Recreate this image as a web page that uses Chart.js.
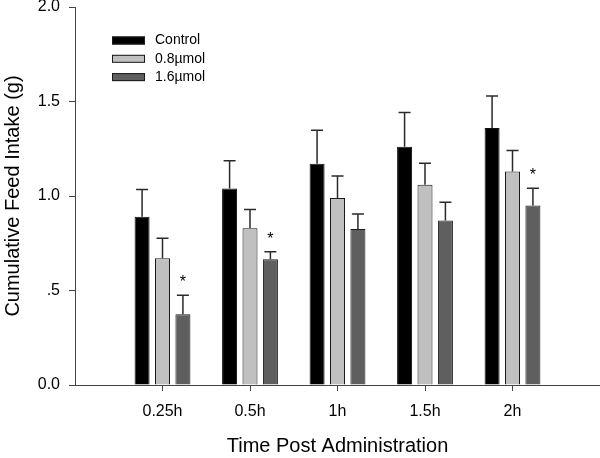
<!DOCTYPE html>
<html><head><meta charset="utf-8">
<script src="https://cdn.jsdelivr.net/npm/chart.js@4/dist/chart.umd.min.js"></script>
<style>html,body{margin:0;padding:0;background:#fff}#wrap{width:600px;height:458px;position:relative}</style>
</head><body><div id="wrap"><canvas id="c" width="600" height="458"></canvas></div>
<script>
const categories = ['0.25h', '0.5h', '1h', '1.5h', '2h'];
const seriesNames = ['Control', '0.8\u00b5mol', '1.6\u00b5mol'];
const controlMeans = [0.89, 1.04, 1.17, 1.26, 1.36];
const controlSem = [0.145, 0.146, 0.178, 0.182, 0.169];
const lowMeans = [0.67, 0.83, 0.99, 1.06, 1.13];
const lowSem = [0.106, 0.098, 0.116, 0.113, 0.111];
const highMeans = [0.375, 0.665, 0.825, 0.87, 0.95];
const highSem = [0.10, 0.04, 0.08, 0.097, 0.091];
const highSignificant = [true, true, false, false, true];
const yTickLabels = ['0.0', '.5', '1.0', '1.5', '2.0'];

const FONT = '"Liberation Sans", Arial, Helvetica, sans-serif';
Chart.defaults.font.family = FONT;
Chart.defaults.color = '#000';

const pad = arr => [null, ...arr, null];
const labels = ['', ...categories, ''];

const datasets = [
  { label: seriesNames[0], data: pad(controlMeans), sem: pad(controlSem), sig: pad(categories.map(() => false)),
    backgroundColor: '#000000', borderColor: '#111111', borderWidth: 1 },
  { label: seriesNames[1], data: pad(lowMeans), sem: pad(lowSem), sig: pad(categories.map(() => false)),
    backgroundColor: '#c0c0c0', borderColor: '#1a1a1a', borderWidth: 1 },
  { label: seriesNames[2], data: pad(highMeans), sem: pad(highSem), sig: pad(highSignificant),
    backgroundColor: '#5f5f5f', borderColor: '#1a1a1a', borderWidth: 1 }
];

const errorBars = {
  id: 'errorBars',
  afterDatasetsDraw(chart) {
    const ctx = chart.ctx;
    const yScale = chart.scales.y;
    ctx.save();
    chart.data.datasets.forEach((ds, di) => {
      const meta = chart.getDatasetMeta(di);
      meta.data.forEach((bar, i) => {
        const v = ds.data[i];
        if (v == null) return;
        const top = yScale.getPixelForValue(v + ds.sem[i]);
        const x = bar.x;
        ctx.strokeStyle = '#2a2a2a';
        ctx.lineWidth = 1.5;
        ctx.beginPath();
        ctx.moveTo(x, bar.y);
        ctx.lineTo(x, top);
        ctx.moveTo(x - 6, top);
        ctx.lineTo(x + 6, top);
        ctx.stroke();
        if (ds.sig[i]) {
          ctx.fillStyle = '#000';
          ctx.font = '16px ' + FONT;
          ctx.textAlign = 'center';
          ctx.textBaseline = 'alphabetic';
          ctx.fillText('*', x, top - 8);
        }
      });
    });
    ctx.restore();
  }
};

const innerLegend = {
  id: 'innerLegend',
  afterDraw(chart) {
    const ctx = chart.ctx;
    ctx.save();
    chart.data.datasets.forEach((ds, i) => {
      const cy = 40.5 + i * 18.3;
      ctx.fillStyle = ds.backgroundColor;
      ctx.fillRect(112, cy - 4, 33, 8);
      ctx.strokeStyle = '#1a1a1a';
      ctx.lineWidth = 1;
      ctx.strokeRect(112.5, cy - 3.5, 32, 7);
      ctx.fillStyle = '#000';
      ctx.font = '14px ' + FONT;
      ctx.textAlign = 'left';
      ctx.textBaseline = 'middle';
      ctx.fillText(ds.label, 155, cy);
    });
    ctx.restore();
  }
};

new Chart(document.getElementById('c'), {
  type: 'bar',
  data: { labels, datasets },
  plugins: [errorBars, innerLegend],
  options: {
    responsive: false,
    animation: false,
    devicePixelRatio: 1,
    layout: { padding: { top: 7, right: 0, left: 0, bottom: 0 } },
    plugins: { legend: { display: false }, tooltip: { enabled: false } },
    datasets: { bar: { categoryPercentage: 0.7, barPercentage: 0.735 } },
    scales: {
      x: {
        type: 'category',
        offset: false,
        grid: {
          display: true, offset: false, drawOnChartArea: false, drawTicks: true, tickLength: 6, tickWidth: 1,
          tickColor: c => (c.index === 0 || c.index === labels.length - 1) ? 'rgba(0,0,0,0)' : '#444'
        },
        border: { display: true, color: '#444', width: 1 },
        ticks: { color: '#000', font: { size: 16 }, padding: 11, maxRotation: 0, autoSkip: false },
        title: { display: true, text: 'Time Post Administration', color: '#000', font: { size: 20 }, padding: { top: 0, bottom: 0 } },
        afterFit: s => { s.height = 73; s.paddingLeft = 0; s.paddingRight = 0; }
      },
      y: {
        min: 0, max: 2,
        grid: { display: true, drawOnChartArea: false, drawTicks: true, tickLength: 6, tickColor: '#444' },
        border: { display: true, color: '#444', width: 1 },
        ticks: { stepSize: 0.5, color: '#000', font: { size: 16 }, padding: 9, callback: (v, i) => yTickLabels[i] },
        title: { display: true, text: 'Cumulative Feed Intake (g)', color: '#000', font: { size: 20 }, padding: { top: 1, bottom: 0 } },
        afterFit: s => { s.width = 75; s.paddingTop = 0; s.paddingBottom = 0; }
      }
    }
  }
});
</script></body></html>
